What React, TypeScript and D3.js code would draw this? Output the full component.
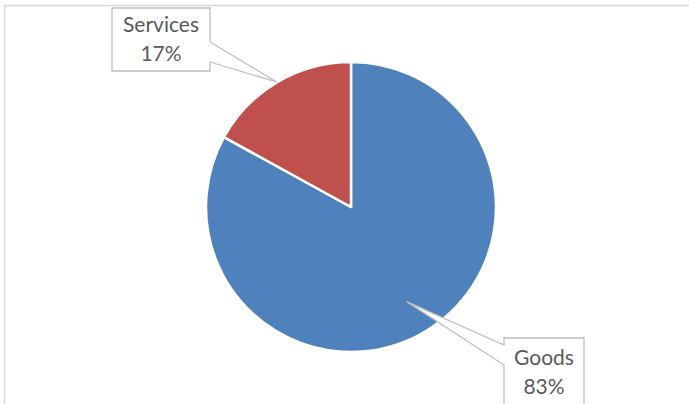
import React from "react";
import * as d3 from "d3";

const categories = ["Goods", "Services"];
const shares = [83, 17];
const colors = ["#4F81BD", "#C0504D"];

const W = 689;
const H = 404;
const cx = 351;
const cy = 207;
const R = 145;

type Box = { x: number; y: number; w: number; h: number; side: "left" | "right"; p1: number; p2: number; tipR: number };
const boxes: Box[] = [
  { x: 504, y: 338, w: 80, h: 80, side: "left", p1: 345, p2: 365, tipR: 0.76 },
  { x: 112, y: 8, w: 98, h: 63, side: "right", p1: 42, p2: 62, tipR: 1.0 },
];

export default function App() {
  const pie = d3.pie<number>().sort(null).value((d) => d)(shares);
  const arc = d3.arc<d3.PieArcDatum<number>>().innerRadius(0).outerRadius(R);

  return (
    <svg width={W} height={H} style={{ position: "absolute", left: 0, top: 0, display: "block" }}>
      <rect x={0} y={0} width={W} height={H} fill="#fff" />
      <path d={`M4.5,${H} V5.5 H${W}`} fill="none" stroke="#d9d9d9" strokeWidth={1.5} />
      <g transform={`translate(${cx},${cy})`}>
        {pie.map((p, i) => (
          <path key={i} d={arc(p) || ""} fill={colors[i]} stroke="#fff" strokeWidth={2.5} strokeLinejoin="round" />
        ))}
      </g>
      {pie.map((p, i) => {
        const b = boxes[i];
        const mid = (p.startAngle + p.endAngle) / 2;
        const tx = cx + Math.sin(mid) * R * b.tipR;
        const ty = cy - Math.cos(mid) * R * b.tipR;
        const x0 = b.x, x1 = b.x + b.w, y0 = b.y, y1 = b.y + b.h;
        let d: string;
        if (b.side === "right") {
          d = `M${x0},${y0} H${x1} V${b.p1} L${tx},${ty} L${x1},${b.p2} V${y1} H${x0} Z`;
        } else {
          d = `M${x0},${y0} H${x1} V${y1} H${x0} V${b.p2} L${tx},${ty} L${x0},${b.p1} Z`;
        }
        const mx = b.x + b.w / 2;
        const base = i === 0 ? 365 : 32;
        return (
          <g key={i}>
            <path d={d} fill="#fff" stroke="#bfbfbf" strokeWidth={1.3} />
            <text x={mx} y={base} textAnchor="middle" fontFamily="Lato, sans-serif" fontSize={21} fill="#595959">
              {categories[i]}
            </text>
            <text x={mx} y={base + 29} textAnchor="middle" fontFamily="Lato, sans-serif" fontSize={21} fill="#595959">
              {`${shares[i]}%`}
            </text>
          </g>
        );
      })}
    </svg>
  );
}
